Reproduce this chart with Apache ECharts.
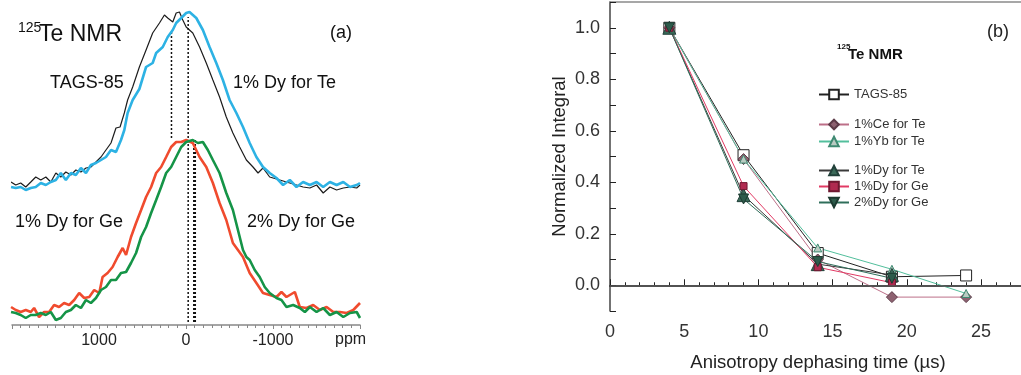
<!DOCTYPE html>
<html><head><meta charset="utf-8">
<script src="https://cdn.jsdelivr.net/npm/echarts@6/dist/echarts.min.js"></script>
<style>html,body{margin:0;padding:0;background:#fff}#c{width:1021px;height:375px}</style>
</head><body><div id="c"></div>
<script>
// ---------- Panel (a): 125Te NMR spectra (chemical shift in ppm, intensity in arb. units) ----------
const tagsPpm = [2011,1957,1900,1842,1784,1727,1669,1611,1554,1496,1439,1381,1323,1266,1208,1150,1093,1035,977,920,862,805,758,709,671,613,536,459,383,305,248,210,152,113,75,37,-2,-78,-156,-233,-309,-386,-463,-539,-617,-694,-770,-828,-885,-962,-1078,-1193,-1270,-1346,-1424,-1501,-1577,-1654,-1731,-1808,-1885,-1962,-2000];
const tagsInt = [143,140,142,138,143,148,145,148,143,152,148,153,150,155,153,157,158,163,168,175,182,197,198,212,225,238,258,275,292,302,310,307,303,312,313,305,298,292,278,262,245,228,208,192,178,165,158,152,157,148,145,142,140,138,137,140,132,138,135,137,138,137,140];

const dyTePpm = [2011,1957,1900,1842,1784,1727,1669,1611,1554,1496,1439,1381,1323,1266,1208,1150,1093,1035,977,920,862,805,747,709,671,613,536,459,383,343,267,210,152,113,55,-2,-40,-118,-194,-271,-348,-424,-501,-579,-655,-732,-809,-885,-962,-1040,-1116,-1193,-1270,-1346,-1424,-1501,-1577,-1654,-1731,-1808,-1885,-1962,-2000];
const dyTeInt = [138,137,138,135,137,138,142,140,143,145,152,145,152,150,157,152,160,162,165,168,175,173,185,195,212,225,236,258,262,272,278,288,295,302,307,312,313,307,295,278,262,245,225,212,198,182,168,158,152,147,140,145,138,143,140,143,138,143,140,143,138,140,142];

const dyGe1Ppm = [2011,1957,1900,1842,1784,1746,1689,1631,1573,1516,1459,1401,1343,1285,1228,1170,1112,1055,997,959,901,844,786,728,689,632,574,516,459,401,343,286,228,171,113,55,-2,-78,-156,-233,-309,-386,-463,-539,-597,-655,-732,-809,-885,-962,-1040,-1097,-1155,-1251,-1308,-1385,-1462,-1539,-1616,-1693,-1769,-1847,-1923,-2000];
const dyGe1Int = [18,15,13,15,13,17,8,13,13,20,18,22,20,25,32,27,28,35,32,48,52,58,68,77,70,88,102,115,128,138,152,158,168,178,183,183,185,182,168,158,142,122,105,82,75,68,52,42,32,30,28,33,28,33,18,17,20,15,18,13,13,12,15,22];

const dyGe2Ppm = [2011,1957,1900,1842,1784,1727,1669,1611,1554,1496,1439,1381,1323,1266,1208,1150,1093,1035,977,920,862,805,747,689,632,574,516,459,401,343,286,228,171,113,55,-2,-78,-136,-194,-251,-309,-386,-463,-539,-597,-655,-694,-732,-790,-847,-905,-962,-1040,-1097,-1155,-1232,-1308,-1366,-1424,-1501,-1577,-1654,-1731,-1808,-1885,-1962,-2000];
const dyGe2Int = [13,12,10,7,10,10,12,10,13,5,7,13,15,20,17,25,22,27,35,38,45,45,52,53,62,72,88,98,112,125,138,152,158,168,178,183,185,182,183,175,165,152,132,115,95,75,68,65,55,48,38,32,27,25,18,20,17,13,18,13,17,10,13,8,12,13,7];

// peak-position guide lines (ppm, top, bottom)
const guidePpm = [167, -25, -98];
const guideTop = [293, 308, 185];
const guideBottom = [187, 3, 3];

// ---------- Panel (b): normalized integral vs anisotropy dephasing time ----------
const timeUs = [4, 9, 14, 19, 24];
const tags85 = [1.0, 0.505, 0.125, 0.033, 0.038];
const ceTe   = [1.0, 0.49, 0.10, -0.046, -0.046];
const ybTe   = [1.0, 0.49, 0.145, 0.062, -0.032];
const dyTe   = [1.0, 0.35, 0.082, 0.04];
const dyGe1  = [1.0, 0.385, 0.07, 0.01];
const dyGe2  = [1.0, 0.335, 0.092, 0.027];

const FONT = "'Liberation Sans', Arial, Helvetica, sans-serif";
const pairs = (xs, ys) => ys.map((y, i) => [xs[i], y]);

const chart = echarts.init(document.getElementById('c'), null, {renderer: 'canvas'});

function specSeries(name, xs, ys, color, width) {
  return {
    name, type: 'line', xAxisIndex: 0, yAxisIndex: 0, data: pairs(xs, ys),
    symbol: 'none', showSymbol: false, smooth: false,
    lineStyle: {color, width}, z: 3, silent: true
  };
}
function guideSeries(i, width, dash) {
  return {
    type: 'line', xAxisIndex: 0, yAxisIndex: 0, symbol: 'none', silent: true,
    data: [[guidePpm[i], guideBottom[i]], [guidePpm[i], guideTop[i]]],
    lineStyle: {color: '#111', width, type: dash}, z: 2
  };
}
function ptSeries(name, ys, opt) {
  return Object.assign({
    name, type: 'line', xAxisIndex: 1, yAxisIndex: 1, data: pairs(timeUs, ys),
    showSymbol: true, z: 4
  }, opt);
}

const option = {
  animation: false,
  backgroundColor: '#fff',
  textStyle: {fontFamily: FONT},
  grid: [
    {left: 12, top: 0, width: 348, height: 325, show: false, outerBoundsMode: 'none', containLabel: false},
    {left: 610, top: 2, width: 411, height: 309, show: false, outerBoundsMode: 'none', containLabel: false}
  ],
  xAxis: [
    {
      gridIndex: 0, type: 'value', min: -2000, max: 2000, interval: 1000, inverse: true,
      axisLine: {show: true, lineStyle: {color: '#888', width: 1.5}},
      axisTick: {show: true, length: 4, inside: false, lineStyle: {color: '#888'}},
      minorTick: {show: true, splitNumber: 10, length: 3, lineStyle: {color: '#888'}},
      splitLine: {show: false},
      axisLabel: {showMinLabel: false, showMaxLabel: false, fontSize: 16, color: '#222', margin: 8, fontFamily: FONT,
        formatter: v => String(v)}
    },
    {
      gridIndex: 1, type: 'value', min: 0, max: 27.7, interval: 5,
      axisLine: {show: true, lineStyle: {color: '#111', width: 1.5}},
      axisTick: {show: true, inside: true, length: 6, lineStyle: {color: '#222'}},
      minorTick: {show: true, splitNumber: 5, length: 3, lineStyle: {color: '#222'}},
      splitLine: {show: false},
      axisLabel: {fontSize: 18, color: '#333', margin: 12, fontFamily: FONT, showMaxLabel: false,
        formatter: v => (v <= 25 ? String(v) : '')},
      name: 'Anisotropy dephasing time (\u00b5s)', nameLocation: 'middle', nameGap: 42, nameMoveOverlap: false,
      nameTextStyle: {fontSize: 18.5, color: '#222', fontFamily: FONT, padding: [0, 0, 0, 5]}
    },
    {
      gridIndex: 1, type: 'value', min: 0, max: 27.7, position: 'top',
      axisLine: {show: true, lineStyle: {color: '#8a8a8a', width: 1.5}},
      axisTick: {show: false}, axisLabel: {show: false}, splitLine: {show: false}
    }
  ],
  yAxis: [
    {gridIndex: 0, type: 'value', min: 0, max: 325, show: false},
    {
      gridIndex: 1, type: 'value', min: -0.1, max: 1.1, interval: 0.1,
      axisLine: {show: true, lineStyle: {color: '#444', width: 1.5}},
      axisTick: {show: true, inside: true, length: 6, lineStyle: {color: '#222'}},
      splitLine: {show: false},
      axisLabel: {fontSize: 18, color: '#333', margin: 10, fontFamily: FONT,
        formatter: v => { const k = Math.round(v * 10); return (k >= 0 && k <= 10 && k % 2 === 0) ? (k / 10).toFixed(1) : ''; }},
      name: 'Normalized Integral', nameLocation: 'middle', nameGap: 41, nameRotate: 90, nameMoveOverlap: false,
      nameTextStyle: {fontSize: 18.5, color: '#222', fontFamily: FONT}
    }
  ],
  legend: [
    {data: ['TAGS-85'], orient: 'vertical', left: 818, top: 88, padding: 0, itemWidth: 30, itemHeight: 12, itemGap: 4,
     textStyle: {fontSize: 13, color: '#333', fontFamily: FONT}, selectedMode: false},
    {data: ['1%Ce for Te', '1%Yb for Te'], orient: 'vertical', left: 818, top: 118, padding: 0, itemWidth: 30, itemHeight: 12, itemGap: 4,
     textStyle: {fontSize: 13, color: '#333', fontFamily: FONT}, selectedMode: false},
    {data: ['1%Dy for Te', '1%Dy for Ge', '2%Dy for Ge'], orient: 'vertical', left: 818, top: 164, padding: 0, itemWidth: 30, itemHeight: 12, itemGap: 3,
     textStyle: {fontSize: 13, color: '#333', fontFamily: FONT}, selectedMode: false}
  ],
  graphic: [
    {type: 'text', x: 18, y: 21, style: {text: '125', fontSize: 14, fontFamily: FONT, fill: '#111'}},
    {type: 'text', x: 39, y: 23, style: {text: 'Te NMR', fontSize: 23, fontFamily: FONT, fill: '#111'}},
    {type: 'text', x: 330, y: 24, style: {text: '(a)', fontSize: 18, fontFamily: FONT, fill: '#111'}},
    {type: 'text', x: 50, y: 74, style: {text: 'TAGS-85', fontSize: 18, fontFamily: FONT, fill: '#111'}},
    {type: 'text', x: 233, y: 74, style: {text: '1% Dy for Te', fontSize: 18, fontFamily: FONT, fill: '#111'}},
    {type: 'text', x: 15, y: 213, style: {text: '1% Dy for Ge', fontSize: 18, fontFamily: FONT, fill: '#111'}},
    {type: 'text', x: 247, y: 213, style: {text: '2% Dy for Ge', fontSize: 18, fontFamily: FONT, fill: '#111'}},
    {type: 'text', x: 335, y: 332, style: {text: 'ppm', fontSize: 16, fontFamily: FONT, fill: '#222'}},
    {type: 'text', x: 987, y: 23, style: {text: '(b)', fontSize: 18, fontFamily: FONT, fill: '#222'}},
    {type: 'text', x: 837, y: 43, style: {text: '125', fontSize: 8, fontWeight: 'bold', fontFamily: FONT, fill: '#111'}},
    {type: 'text', x: 848, y: 47, style: {text: 'Te NMR', fontSize: 15, fontWeight: 'bold', fontFamily: FONT, fill: '#111'}}
  ],
  series: [
    guideSeries(0, 1.5, [2, 2]),
    guideSeries(1, 1.5, [2, 2]),
    guideSeries(2, 3, [2, 2]),
    specSeries('TAGS-85 spectrum', tagsPpm, tagsInt, '#1c1c1c', 1.2),
    specSeries('1% Dy for Te spectrum', dyTePpm, dyTeInt, '#2db2e4', 2.6),
    specSeries('1% Dy for Ge spectrum', dyGe1Ppm, dyGe1Int, '#f04b2e', 2.6),
    specSeries('2% Dy for Ge spectrum', dyGe2Ppm, dyGe2Int, '#159447', 2.6),

    ptSeries('TAGS-85', tags85, {
      symbol: 'rect', symbolSize: 11, lineStyle: {color: '#222', width: 1},
      itemStyle: {color: '#fff', borderColor: '#222', borderWidth: 1},
      markLine: {silent: true, symbol: ['none', 'none'], label: {show: false},
        lineStyle: {color: '#555', width: 1.5, type: 'solid'}, data: [{yAxis: 0}]}
    }),
    ptSeries('1%Ce for Te', ceTe, {
      symbol: 'diamond', symbolSize: 11, lineStyle: {color: '#bd6f88', width: 1},
      itemStyle: {color: '#8d6170', borderColor: '#5c3a47', borderWidth: 1}
    }),
    ptSeries('1%Yb for Te', ybTe, {
      symbol: 'triangle', symbolSize: 8, lineStyle: {color: '#52bf9c', width: 1},
      itemStyle: {color: '#b9cbc2', borderColor: '#3f8a72', borderWidth: 1}
    }),
    ptSeries('1%Dy for Te', dyTe, {
      symbol: 'triangle', symbolSize: 13, lineStyle: {color: '#3a3a3a', width: 1},
      itemStyle: {color: '#3a6958', borderColor: '#22413a', borderWidth: 1}
    }),
    ptSeries('1%Dy for Ge', dyGe1, {
      symbol: 'rect', symbolSize: 7, lineStyle: {color: '#e23a64', width: 1},
      itemStyle: {color: '#b02a50', borderColor: '#6e1830', borderWidth: 1}
    }),
    ptSeries('2%Dy for Ge', dyGe2, {
      symbol: 'triangle', symbolRotate: 180, symbolSize: 10, lineStyle: {color: '#2f6e5a', width: 1},
      itemStyle: {color: '#2d5b4b', borderColor: '#1c3a30', borderWidth: 1}
    })
  ]
};
chart.setOption(option);
</script>
</body></html>
